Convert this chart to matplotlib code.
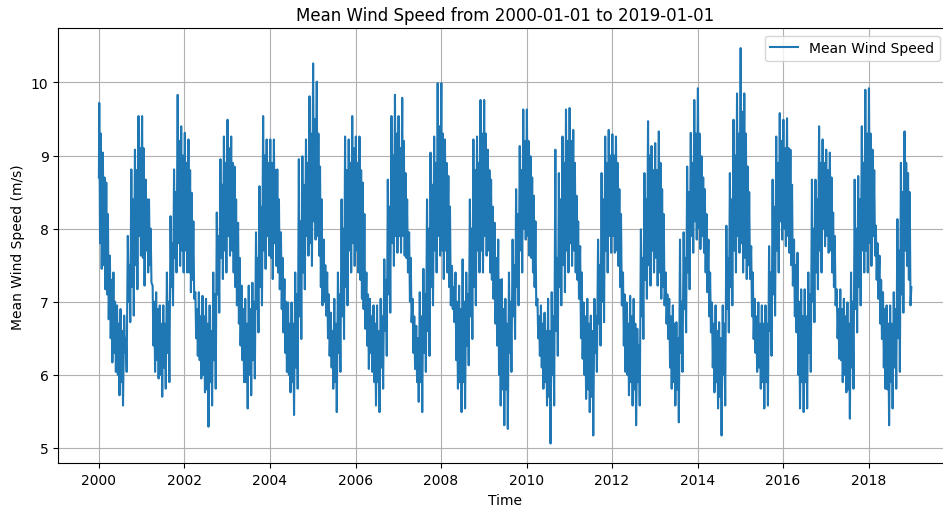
import pandas as pd
import matplotlib
matplotlib.use("Agg")
import matplotlib.pyplot as plt
import matplotlib.dates as mdates

# daily mean wind speed (m/s):
# high_* = monthly spike top, low_* = monthly spike bottom,
# body_hi_* / body_lo_* = upper / lower edge of the dense part of the band
high_2000 = [9.72, 9.04, 8.63, 7.63, 7.40, 6.95, 6.90, 6.81, 7.90, 8.81, 9.08, 9.54]
low_2000 = [7.45, 7.17, 6.76, 6.17, 6.04, 5.72, 5.58, 6.04, 6.72, 6.81, 7.17, 7.63]
body_hi_2000 = [9.3, 8.7, 8.2, 7.3, 7.0, 6.7, 6.6, 6.5, 7.5, 8.4, 8.8, 9.1]
body_lo_2000 = [7.8, 7.5, 7.1, 6.5, 6.3, 6.0, 5.9, 6.3, 7.0, 7.2, 7.5, 7.9]

high_2001 = [9.54, 8.67, 8.40, 7.22, 7.13, 6.95, 6.95, 7.40, 8.17, 8.81, 9.83, 9.40]
low_2001 = [7.22, 7.40, 7.26, 6.04, 5.95, 5.70, 5.81, 5.90, 6.95, 7.40, 7.49, 7.40]
body_hi_2001 = [9.1, 8.4, 8.0, 7.0, 6.9, 6.7, 6.7, 7.0, 7.8, 8.5, 9.2, 9.0]
body_lo_2001 = [7.6, 7.7, 7.5, 6.4, 6.2, 6.0, 6.1, 6.3, 7.2, 7.6, 7.8, 7.7]

high_2002 = [9.31, 9.22, 8.49, 7.13, 7.13, 7.08, 7.04, 6.95, 7.40, 8.22, 8.95, 9.26]
low_2002 = [7.40, 7.13, 7.04, 6.26, 5.95, 5.76, 5.29, 5.58, 5.81, 6.85, 7.31, 7.40]
body_hi_2002 = [8.9, 8.8, 8.1, 6.9, 6.8, 6.8, 6.7, 6.6, 7.1, 7.9, 8.6, 8.9]
body_lo_2002 = [7.7, 7.4, 7.3, 6.5, 6.2, 6.0, 5.8, 5.9, 6.2, 7.1, 7.6, 7.7]

high_2003 = [9.49, 9.26, 8.85, 8.08, 7.22, 7.04, 7.22, 7.26, 7.95, 8.58, 9.54, 9.22]
low_2003 = [7.63, 7.40, 6.95, 6.40, 5.90, 5.54, 5.72, 5.95, 6.58, 6.95, 7.45, 7.63]
body_hi_2003 = [9.1, 8.9, 8.4, 7.6, 6.9, 6.7, 6.9, 7.0, 7.6, 8.3, 9.0, 8.9]
body_lo_2003 = [7.9, 7.7, 7.2, 6.7, 6.2, 5.9, 6.0, 6.2, 6.9, 7.2, 7.7, 7.9]

high_2004 = [9.22, 9.22, 8.81, 7.95, 7.31, 6.99, 6.99, 7.40, 8.95, 8.99, 9.22, 9.81]
low_2004 = [7.31, 7.49, 7.17, 6.58, 6.04, 5.76, 5.45, 5.81, 6.49, 7.17, 7.63, 7.49]
body_hi_2004 = [8.9, 8.8, 8.4, 7.6, 7.0, 6.7, 6.7, 7.1, 8.1, 8.6, 8.9, 9.3]
body_lo_2004 = [7.6, 7.8, 7.4, 6.9, 6.3, 6.0, 5.9, 6.1, 6.8, 7.4, 7.9, 7.8]

high_2005 = [10.26, 10.01, 8.85, 7.85, 7.40, 6.85, 7.04, 7.40, 8.40, 9.26, 9.22, 9.54]
low_2005 = [7.85, 7.63, 6.95, 6.81, 6.26, 5.81, 5.49, 6.04, 6.49, 6.95, 7.40, 7.49]
body_hi_2005 = [9.5, 9.3, 8.4, 7.5, 7.1, 6.6, 6.7, 7.1, 8.0, 8.8, 8.9, 9.1]
body_lo_2005 = [8.1, 7.9, 7.2, 7.0, 6.5, 6.1, 5.9, 6.3, 6.8, 7.2, 7.7, 7.8]

high_2006 = [9.26, 9.26, 8.63, 7.40, 7.04, 6.95, 6.95, 7.04, 7.58, 8.67, 9.54, 9.83]
low_2006 = [7.40, 7.04, 6.63, 6.08, 6.04, 5.58, 5.49, 5.81, 6.26, 6.85, 7.49, 7.67]
body_hi_2006 = [8.9, 8.8, 8.2, 7.1, 6.8, 6.7, 6.6, 6.8, 7.3, 8.3, 9.0, 9.3]
body_lo_2006 = [7.7, 7.3, 6.9, 6.4, 6.3, 5.9, 5.9, 6.1, 6.6, 7.1, 7.8, 7.9]

high_2007 = [9.54, 9.79, 8.76, 7.95, 7.04, 6.67, 7.13, 7.45, 8.40, 9.04, 9.26, 9.99]
low_2007 = [7.67, 7.63, 7.40, 6.72, 6.08, 5.63, 5.49, 6.04, 6.26, 6.95, 7.40, 7.63]
body_hi_2007 = [9.1, 9.2, 8.4, 7.6, 6.8, 6.5, 6.8, 7.1, 8.0, 8.6, 8.9, 9.4]
body_lo_2007 = [7.9, 7.9, 7.6, 7.0, 6.3, 5.9, 5.9, 6.3, 6.6, 7.2, 7.7, 7.9]

high_2008 = [9.99, 9.22, 8.72, 7.49, 7.40, 7.22, 7.58, 7.40, 8.40, 9.22, 9.26, 9.76]
low_2008 = [7.31, 7.40, 6.95, 6.72, 5.81, 5.49, 5.54, 6.13, 6.49, 6.95, 7.40, 7.40]
body_hi_2008 = [9.3, 8.9, 8.3, 7.2, 7.0, 6.9, 7.0, 7.1, 8.0, 8.8, 8.9, 9.3]
body_lo_2008 = [7.7, 7.7, 7.2, 6.9, 6.2, 5.9, 5.9, 6.4, 6.8, 7.2, 7.7, 7.7]

high_2009 = [9.76, 9.08, 8.67, 8.08, 7.85, 7.31, 7.04, 7.40, 7.85, 8.54, 9.13, 9.63]
low_2009 = [7.63, 7.40, 7.04, 6.40, 5.58, 5.31, 5.26, 6.04, 6.49, 6.95, 7.40, 7.85]
body_hi_2009 = [9.3, 8.8, 8.3, 7.6, 7.3, 6.9, 6.7, 7.0, 7.5, 8.2, 8.8, 9.2]
body_lo_2009 = [7.9, 7.7, 7.3, 6.7, 6.0, 5.8, 5.8, 6.3, 6.8, 7.2, 7.7, 8.0]

high_2010 = [9.63, 8.99, 8.45, 7.04, 6.95, 6.85, 7.04, 7.13, 9.08, 8.76, 9.26, 9.63]
low_2010 = [7.63, 7.40, 6.95, 6.26, 5.81, 5.58, 5.06, 5.58, 6.26, 6.95, 7.13, 7.40]
body_hi_2010 = [9.2, 8.7, 8.1, 6.8, 6.7, 6.6, 6.6, 6.8, 7.6, 8.4, 8.9, 9.2]
body_lo_2010 = [7.9, 7.6, 7.2, 6.5, 6.1, 5.9, 5.7, 6.0, 6.6, 7.2, 7.5, 7.7]

high_2011 = [9.65, 9.35, 8.45, 7.76, 6.99, 7.04, 6.81, 7.04, 7.85, 8.76, 9.26, 9.35]
low_2011 = [7.49, 7.40, 7.04, 6.22, 5.67, 5.49, 5.17, 6.04, 6.40, 6.72, 7.40, 7.67]
body_hi_2011 = [9.2, 8.9, 8.1, 7.4, 6.8, 6.7, 6.6, 6.8, 7.5, 8.4, 8.9, 9.0]
body_lo_2011 = [7.8, 7.7, 7.3, 6.5, 6.0, 5.8, 5.7, 6.3, 6.7, 7.0, 7.7, 7.9]

high_2012 = [9.29, 9.26, 8.54, 7.40, 6.99, 7.08, 7.04, 6.63, 7.99, 8.76, 9.47, 9.13]
low_2012 = [7.67, 7.49, 6.95, 6.04, 5.72, 5.58, 5.31, 5.58, 6.49, 7.04, 7.22, 7.40]
body_hi_2012 = [9.0, 8.9, 8.2, 7.1, 6.7, 6.8, 6.7, 6.4, 7.6, 8.4, 9.0, 8.8]
body_lo_2012 = [7.9, 7.7, 7.2, 6.4, 6.0, 5.9, 5.8, 5.9, 6.8, 7.3, 7.5, 7.7]

high_2013 = [9.17, 9.33, 8.54, 7.40, 7.04, 6.95, 6.72, 7.85, 7.95, 8.85, 9.31, 9.76]
low_2013 = [7.22, 7.04, 6.95, 6.49, 5.81, 5.58, 5.35, 6.04, 6.58, 7.17, 7.67, 7.85]
body_hi_2013 = [8.8, 8.9, 8.2, 7.1, 6.8, 6.7, 6.5, 7.0, 7.6, 8.5, 8.9, 9.3]
body_lo_2013 = [7.6, 7.4, 7.2, 6.7, 6.1, 5.9, 5.8, 6.3, 6.9, 7.4, 7.9, 8.1]

high_2014 = [9.92, 8.99, 8.54, 7.85, 6.99, 6.95, 6.72, 6.95, 8.04, 8.76, 9.49, 9.85]
low_2014 = [7.72, 7.67, 7.13, 6.58, 5.76, 5.54, 5.17, 5.58, 6.58, 6.95, 7.40, 7.67]
body_hi_2014 = [9.3, 8.7, 8.2, 7.4, 6.7, 6.6, 6.5, 6.7, 7.6, 8.4, 9.0, 9.3]
body_lo_2014 = [8.0, 7.9, 7.4, 6.8, 6.1, 5.9, 5.7, 6.0, 6.9, 7.2, 7.7, 7.9]

high_2015 = [10.47, 9.85, 8.85, 7.76, 7.04, 6.99, 6.95, 6.95, 7.76, 8.67, 9.26, 9.58]
low_2015 = [7.40, 7.31, 7.31, 6.49, 6.04, 5.81, 5.54, 5.58, 6.26, 6.81, 7.40, 7.85]
body_hi_2015 = [9.6, 9.3, 8.5, 7.4, 6.8, 6.7, 6.7, 6.7, 7.4, 8.3, 8.9, 9.2]
body_lo_2015 = [7.8, 7.6, 7.5, 6.8, 6.3, 6.1, 5.9, 5.9, 6.6, 7.1, 7.7, 8.1]

high_2016 = [9.49, 9.51, 9.08, 7.85, 7.67, 7.17, 7.17, 7.40, 8.67, 8.67, 9.40, 9.22]
low_2016 = [7.76, 7.67, 7.22, 6.58, 5.54, 5.49, 5.54, 6.04, 6.72, 7.17, 7.40, 7.76]
body_hi_2016 = [9.1, 9.1, 8.6, 7.5, 7.0, 6.8, 6.8, 7.1, 8.0, 8.4, 8.9, 8.9]
body_lo_2016 = [8.0, 7.9, 7.5, 6.8, 6.0, 5.9, 5.9, 6.3, 7.0, 7.4, 7.7, 8.0]

high_2017 = [9.08, 9.04, 8.22, 7.17, 7.17, 7.04, 6.99, 7.40, 8.67, 8.72, 9.40, 9.90]
low_2017 = [7.67, 7.40, 6.95, 6.22, 5.90, 5.76, 5.40, 5.81, 6.58, 6.95, 7.40, 7.40]
body_hi_2017 = [8.8, 8.7, 7.9, 6.9, 6.9, 6.8, 6.7, 7.0, 8.0, 8.4, 8.9, 9.3]
body_lo_2017 = [7.9, 7.7, 7.2, 6.5, 6.2, 6.0, 5.8, 6.1, 6.9, 7.2, 7.7, 7.7]

high_2018 = [9.92, 9.08, 8.04, 7.63, 7.13, 6.95, 6.95, 7.13, 8.13, 8.90, 9.33, 8.76]
low_2018 = [7.49, 7.63, 7.04, 6.49, 5.81, 5.31, 5.54, 5.81, 6.04, 6.85, 7.49, 6.95]
body_hi_2018 = [9.3, 8.8, 7.8, 7.3, 6.9, 6.7, 6.7, 6.9, 7.7, 8.5, 8.9, 8.5]
body_lo_2018 = [7.8, 7.9, 7.3, 6.7, 6.1, 5.8, 5.9, 6.1, 6.5, 7.1, 7.7, 7.3]

first_value = 8.70   # 2000-01-01
last_value = 7.20    # 2019-01-01

years = list(range(2000, 2019))
highs = [globals()[f"high_{y}"] for y in years]
lows = [globals()[f"low_{y}"] for y in years]
body_his = [globals()[f"body_hi_{y}"] for y in years]
body_los = [globals()[f"body_lo_{y}"] for y in years]

# four readings per month, about a week apart
dates = [pd.Timestamp("2000-01-01")]
values = [first_value]
for y, hi, lo, bhi, blo in zip(years, highs, lows, body_his, body_los):
    for m in range(12):
        start = pd.Timestamp(year=y, month=m + 1, day=1)
        for day, v in ((3, hi[m]), (10, blo[m]), (17, bhi[m]), (24, lo[m])):
            dates.append(start + pd.Timedelta(days=day))
            values.append(v)
dates.append(pd.Timestamp("2019-01-01"))
values.append(last_value)

fig = plt.figure(figsize=(9.43, 5.06), dpi=100)
ax = fig.add_axes([0.0618, 0.0824, 0.9477, 0.8597])

ax.plot(dates, values, color="#1f77b4", linewidth=1.5, label="Mean Wind Speed")

ax.xaxis.set_major_locator(mdates.YearLocator(2))
ax.xaxis.set_major_formatter(mdates.DateFormatter("%Y"))
ax.set_yticks([5, 6, 7, 8, 9, 10])
ax.grid(True)

ax.set_title("Mean Wind Speed from 2000-01-01 to 2019-01-01")
ax.set_xlabel("Time")
ax.set_ylabel("Mean Wind Speed (m/s)")
ax.legend(loc="upper right", bbox_to_anchor=(940 / 943, 1 - 36.7 / 506),
          bbox_transform=fig.transFigure, borderaxespad=0)

fig.savefig("out.png", dpi=100)
